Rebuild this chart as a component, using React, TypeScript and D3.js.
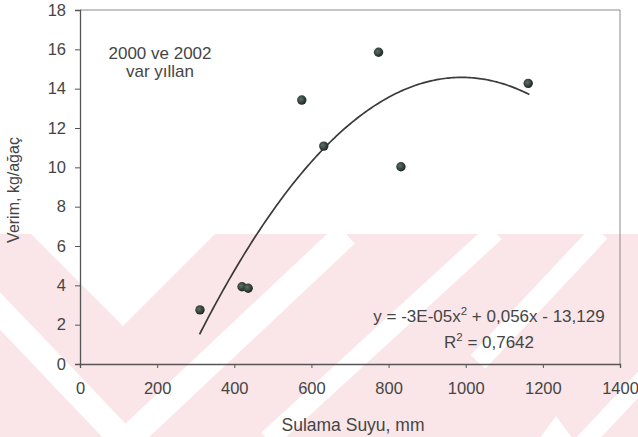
import * as d3 from "d3";
import React, { useEffect, useRef } from "react";

// veriler
const irrigation = [311, 420, 436, 575, 632, 774, 832, 1162];
const yieldKg = [2.75, 3.93, 3.85, 13.42, 11.08, 15.85, 10.03, 14.27];
const xTicks = [0, 200, 400, 600, 800, 1000, 1200, 1400];
const yTicks = [0, 2, 4, 6, 8, 10, 12, 14, 16, 18];
const noteLines = ["2000 ve 2002", "var yıllan"];
// trend: y = a*x^2 + b*x + c (a görüntüdeki -3E-05'in yuvarlanmamış hali)
const trendCoef = [-2.83e-5, 0.056, -13.129];
const trendRange = [310, 1165];
const eqLabel = ["y = -3E-05x", "2", " + 0,056x - 13,129"];
const r2Label = ["R", "2", " = 0,7642"];

const W = 638;
const H = 437;
const FONT = "'Liberation Sans', Arial, sans-serif";

export default function App() {
  const ref = useRef<SVGSVGElement>(null);

  useEffect(() => {
    const svg = d3.select(ref.current);
    svg.selectAll("*").remove();

    const x = d3.scaleLinear().domain([0, 1400]).range([80, 620]);
    const y = d3.scaleLinear().domain([0, 18]).range([364, 10]);

    // arka plandaki pembe filigran
    const wm = svg.append("g");
    wm.append("rect").attr("x", 0).attr("y", 234).attr("width", W).attr("height", H - 234).attr("fill", "#fae6e8");
    wm.append("path").attr("d", "M31,234L123,326L215,234Z").attr("fill", "#fff");
    const stripes = [
      { d: "M-20,290L125,442L346,234", w: 26 },
      { d: "M268,440L495,232", w: 20 },
      { d: "M600,232L478,362", w: 20 },
      { d: "M650,372L575,452", w: 18 },
      { d: "M525,470L556,428L588,470", w: 14 },
    ];
    wm.selectAll("path.s")
      .data(stripes)
      .enter()
      .append("path")
      .attr("class", "s")
      .attr("d", (d) => d.d)
      .attr("fill", "none")
      .attr("stroke", "#fff")
      .attr("stroke-width", (d) => d.w);

    // nokta gradyanı
    const defs = svg.append("defs");
    const grad = defs.append("radialGradient").attr("id", "ball").attr("cx", "40%").attr("cy", "40%").attr("r", "60%");
    grad.append("stop").attr("offset", "0%").attr("stop-color", "#5d7066");
    grad.append("stop").attr("offset", "100%").attr("stop-color", "#1e2824");

    // çerçeve
    svg.append("path")
      .attr("d", `M${x(0)},${y(18)}H${x(1400)}V${y(0)}`)
      .attr("fill", "none")
      .attr("stroke", "#8a8a8a")
      .attr("stroke-width", 1);

    const gx = svg.append("g").attr("transform", `translate(0,${y(0)})`)
      .call(d3.axisBottom(x).tickValues(xTicks).tickSize(4).tickPadding(14).tickFormat(d3.format("d")));
    const gy = svg.append("g").attr("transform", `translate(${x(0)},0)`)
      .call(d3.axisLeft(y).tickValues(yTicks).tickSize(5).tickPadding(9).tickFormat(d3.format("d")));
    [gx, gy].forEach((g) => {
      g.select(".domain").attr("stroke", "#555").attr("stroke-width", 1.3);
      g.selectAll(".tick line").attr("stroke", "#555");
      g.selectAll(".tick text").attr("fill", "#454545").style("font-family", FONT).style("font-size", "16.5px");
    });

    // eksen başlıkları
    svg.append("text")
      .attr("x", 353).attr("y", 431)
      .attr("text-anchor", "middle")
      .attr("fill", "#454545")
      .style("font-family", FONT).style("font-size", "17.5px")
      .text("Sulama Suyu, mm");
    svg.append("text")
      .attr("transform", "translate(19,190) rotate(-90)")
      .attr("text-anchor", "middle")
      .attr("fill", "#454545")
      .style("font-family", FONT).style("font-size", "16px")
      .text("Verim, kg/ağaç");

    // not
    svg.selectAll("text.note")
      .data(noteLines)
      .enter()
      .append("text")
      .attr("class", "note")
      .attr("x", 160)
      .attr("y", (d, i) => 59 + i * 18)
      .attr("text-anchor", "middle")
      .attr("fill", "#454545")
      .style("font-family", FONT).style("font-size", "17px")
      .text((d) => d);

    // trend eğrisi
    const [a, b, c] = trendCoef;
    const xs = d3.range(trendRange[0], trendRange[1] + 1, 5);
    const line = d3.line<number>().x((v) => x(v)).y((v) => y(a * v * v + b * v + c)).curve(d3.curveMonotoneX);
    svg.append("path")
      .attr("d", line(xs))
      .attr("fill", "none")
      .attr("stroke", "#3a3a3a")
      .attr("stroke-width", 1.7);

    // noktalar
    svg.selectAll("circle.pt")
      .data(irrigation.map((v, i) => [v, yieldKg[i]]))
      .enter()
      .append("circle")
      .attr("class", "pt")
      .attr("cx", (d) => x(d[0]))
      .attr("cy", (d) => y(d[1]))
      .attr("r", 4.7)
      .attr("fill", "url(#ball)");

    // denklem
    const eq = (parts: string[], yy: number) => {
      const t = svg.append("text")
        .attr("x", 489).attr("y", yy)
        .attr("text-anchor", "middle")
        .attr("fill", "#454545")
        .style("font-family", FONT).style("font-size", "17px");
      t.append("tspan").text(parts[0]);
      t.append("tspan").attr("dy", -7).style("font-size", "11.5px").text(parts[1]);
      t.append("tspan").attr("dy", 7).text(parts[2]);
    };
    eq(eqLabel, 322);
    eq(r2Label, 348);
  }, []);

  return (
    <div style={{ position: "absolute", left: 0, top: 0 }}>
      <svg ref={ref} width={W} height={H} style={{ display: "block", background: "#fff" }} />
    </div>
  );
}
